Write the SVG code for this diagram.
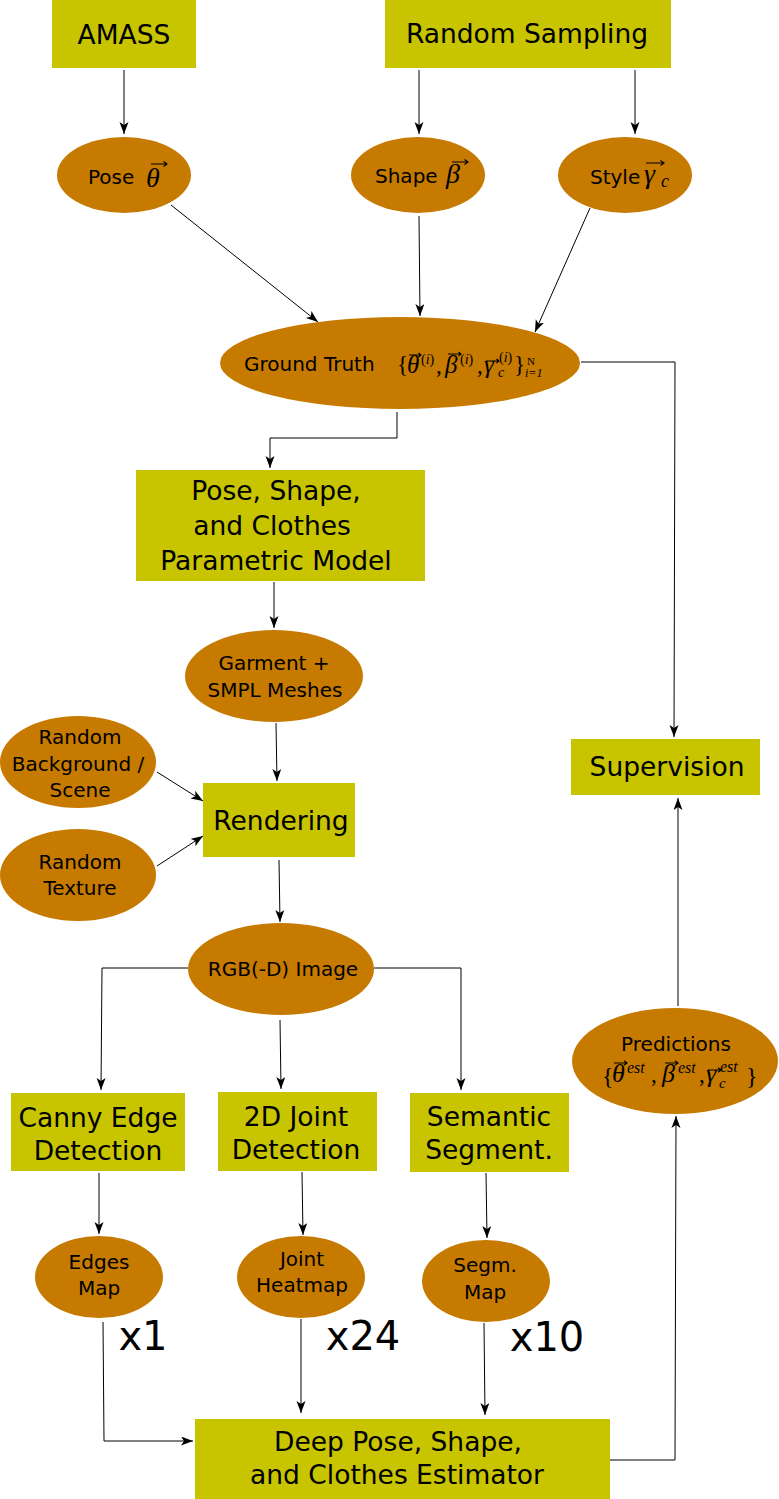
<svg xmlns="http://www.w3.org/2000/svg" width="779" height="1499" viewBox="0 0 779 1499">
<style>
.r{fill:#c8c400}
.e{fill:#c67a00}
.t{font-family:"DejaVu Sans",sans-serif;fill:#000;text-anchor:middle}
.l{font-family:"DejaVu Sans",sans-serif;fill:#000}
.b{font-size:26.5px}
.s{font-size:20px}
.m{font-family:"Liberation Serif","DejaVu Serif",serif;font-style:italic;fill:#000}
.u{font-family:"Liberation Serif","DejaVu Serif",serif;fill:#000}
.c{fill:none;stroke:#000;stroke-width:1;marker-end:url(#a)}
.v{fill:none;stroke:#000;stroke-width:1.1}
</style>
<defs>
<marker id="a" markerUnits="userSpaceOnUse" markerWidth="13" markerHeight="10" refX="12" refY="4.5" orient="auto">
<path d="M0,0 L12,4.5 L0,9 L3,4.5 Z" fill="#000"/>
</marker>
</defs>
<g id="connectors">
<path class="c" d="M124,70 V134"/>
<path class="c" d="M419,70 V134"/>
<path class="c" d="M635,70 V134"/>
<path class="c" d="M171,205 L318,322"/>
<path class="c" d="M419,216 L420,316"/>
<path class="c" d="M590,208 L535,332"/>
<path class="c" d="M397,412 V438 H270 V468"/>
<path class="c" d="M581,362 H675 L674,737"/>
<path class="c" d="M274,582 V628"/>
<path class="c" d="M276,723 L277,781"/>
<path class="c" d="M157,772 L203,801"/>
<path class="c" d="M157,866 L203,836"/>
<path class="c" d="M279,860 L280,922"/>
<path class="c" d="M188,968 H102 L101,1090"/>
<path class="c" d="M280,1020 L281,1089"/>
<path class="c" d="M374,968 H461 V1090"/>
<path class="c" d="M99,1173 V1234"/>
<path class="c" d="M302,1172 L303,1235"/>
<path class="c" d="M486,1173 L487,1238"/>
<path class="c" d="M103,1322 L104,1441 H193"/>
<path class="c" d="M301,1319 V1413"/>
<path class="c" d="M484,1323 L485,1415"/>
<path class="c" d="M610,1460 H675 L676,1116"/>
<path class="c" d="M678,1006 V798"/>
</g>
<g id="amass"><rect class="r" x="52" y="0" width="144" height="68"/><text class="t b" x="124" y="44">AMASS</text></g>
<g id="random-sampling"><rect class="r" x="385" y="0" width="286" height="68"/><text class="t b" x="527" y="43">Random Sampling</text></g>
<g id="pose"><ellipse class="e" cx="124" cy="175" rx="67" ry="38"/>
<text class="l s" x="88" y="184">Pose</text>
<text class="m" x="146" y="187" font-size="28">θ</text>
<path class="v" d="M151,164 H167 M163.5,161.5 L167,164 L163.5,166.5"/></g>
<g id="shape"><ellipse class="e" cx="418" cy="175" rx="67" ry="38"/>
<text class="l s" x="375" y="183">Shape</text>
<text class="m" x="446" y="183" font-size="28">β</text>
<path class="v" d="M452,162 H468 M464.5,159.5 L468,162 L464.5,164.5"/></g>
<g id="style"><ellipse class="e" cx="625" cy="175" rx="67" ry="38"/>
<text class="l s" x="590" y="184">Style</text>
<text class="m" x="644" y="183" font-size="28">γ</text>
<text class="m" x="661" y="187" font-size="18">c</text>
<path class="v" d="M646,163 H664 M660.5,160.5 L664,163 L660.5,165.5"/></g>
<g id="ground-truth"><ellipse class="e" cx="400" cy="363" rx="180" ry="46"/>
<text class="l s" x="244" y="371">Ground Truth</text>
<text class="u" x="397" y="372" font-size="23">{</text>
<text class="m" x="407" y="373" font-size="25">θ</text>
<text class="u" x="421" y="364" font-size="14">(<tspan class="m">i</tspan>)</text>
<text class="u" x="436" y="373" font-size="23">,</text>
<text class="m" x="445" y="373" font-size="25">β</text>
<text class="u" x="460" y="364" font-size="14">(<tspan class="m">i</tspan>)</text>
<text class="u" x="477" y="373" font-size="23">,</text>
<text class="m" x="484" y="373" font-size="25">γ</text>
<text class="m" x="498" y="377" font-size="14">c</text>
<text class="u" x="499" y="362" font-size="14">(<tspan class="m">i</tspan>)</text>
<text class="u" x="514" y="372" font-size="23">}</text>
<text class="u" x="527" y="365" font-size="11">N</text>
<text class="m" x="525" y="377" font-size="12">i<tspan class="u">=1</tspan></text>
<path class="v" d="M409,355 H421 M418.5,353 L421,355 L418.5,357 M448,354 H461 M458.5,352 L461,354 L458.5,356 M486,361 H499 M496.5,359 L499,361 L496.5,363"/>
</g>
<g id="param-model"><rect class="r" x="136" y="470" width="289" height="111"/><text class="t b" x="276" y="500">Pose, Shape,</text><text class="t b" x="272" y="535">and Clothes</text><text class="t b" x="276" y="570">Parametric Model</text></g>
<g id="garment"><ellipse class="e" cx="274" cy="676" rx="89" ry="46"/><text class="t s" x="274" y="670">Garment +</text><text class="t s" x="275" y="697">SMPL Meshes</text></g>
<g id="background"><ellipse class="e" cx="78" cy="762" rx="78" ry="46"/><text class="t s" x="80" y="744">Random</text><text class="t s" x="78" y="771">Background /</text><text class="t s" x="80" y="797">Scene</text></g>
<g id="texture"><ellipse class="e" cx="78" cy="875" rx="78" ry="46"/><text class="t s" x="80" y="869">Random</text><text class="t s" x="80" y="895">Texture</text></g>
<g id="rendering"><rect class="r" x="203" y="783" width="152" height="74"/><text class="t b" x="281" y="830">Rendering</text></g>
<g id="rgb"><ellipse class="e" cx="281" cy="969" rx="93" ry="46"/><text class="t s" x="283" y="976">RGB(-D) Image</text></g>
<g id="supervision"><rect class="r" x="571" y="739" width="189" height="56"/><text class="t b" x="667" y="776">Supervision</text></g>
<g id="predictions"><ellipse class="e" cx="675" cy="1061" rx="103" ry="53"/><text class="t s" x="676" y="1051">Predictions</text>
<text class="u" x="602" y="1084" font-size="24">{</text>
<text class="m" x="612" y="1082" font-size="26">θ</text>
<text class="m" x="627" y="1073" font-size="16">est</text>
<text class="u" x="651" y="1082" font-size="23">,</text>
<text class="m" x="662" y="1082" font-size="26">β</text>
<text class="m" x="678" y="1073" font-size="16">est</text>
<text class="u" x="699" y="1082" font-size="23">,</text>
<text class="m" x="706" y="1082" font-size="26">γ</text>
<text class="m" x="719" y="1088" font-size="15">c</text>
<text class="m" x="720" y="1072" font-size="16">est</text>
<text class="u" x="746" y="1084" font-size="24">}</text>
<path class="v" d="M614,1063 H627 M624,1060.8 L627,1063 L624,1065.2 M665,1063 H678 M675,1060.8 L678,1063 L675,1065.2 M708,1070 H721 M718,1067.8 L721,1070 L718,1072.2"/>
</g>
<g id="canny"><rect class="r" x="11" y="1093" width="174" height="78"/><text class="t b" x="98" y="1127">Canny Edge</text><text class="t b" x="98" y="1160">Detection</text></g>
<g id="joint"><rect class="r" x="218" y="1092" width="159" height="79"/><text class="t b" x="296" y="1126">2D Joint</text><text class="t b" x="296" y="1159">Detection</text></g>
<g id="semantic"><rect class="r" x="410" y="1093" width="159" height="79"/><text class="t b" x="489" y="1126">Semantic</text><text class="t b" x="489" y="1159">Segment.</text></g>
<g id="edges"><ellipse class="e" cx="99" cy="1277" rx="64" ry="41"/><text class="t s" x="99" y="1269">Edges</text><text class="t s" x="99" y="1295">Map</text></g>
<g id="heatmap"><ellipse class="e" cx="301" cy="1277" rx="64" ry="41"/><text class="t s" x="302" y="1266">Joint</text><text class="t s" x="302" y="1292">Heatmap</text></g>
<g id="segm"><ellipse class="e" cx="486" cy="1281" rx="64" ry="41"/><text class="t s" x="485" y="1272">Segm.</text><text class="t s" x="485" y="1299">Map</text></g>
<text class="t" x="143" y="1350" font-size="40">x1</text>
<text class="t" x="363" y="1350" font-size="40">x24</text>
<text class="t" x="547" y="1351" font-size="40">x10</text>
<g id="deep"><rect class="r" x="195" y="1419" width="415" height="80"/><text class="t b" x="398" y="1451">Deep Pose, Shape,</text><text class="t b" x="397" y="1484">and Clothes Estimator</text></g>
</svg>
